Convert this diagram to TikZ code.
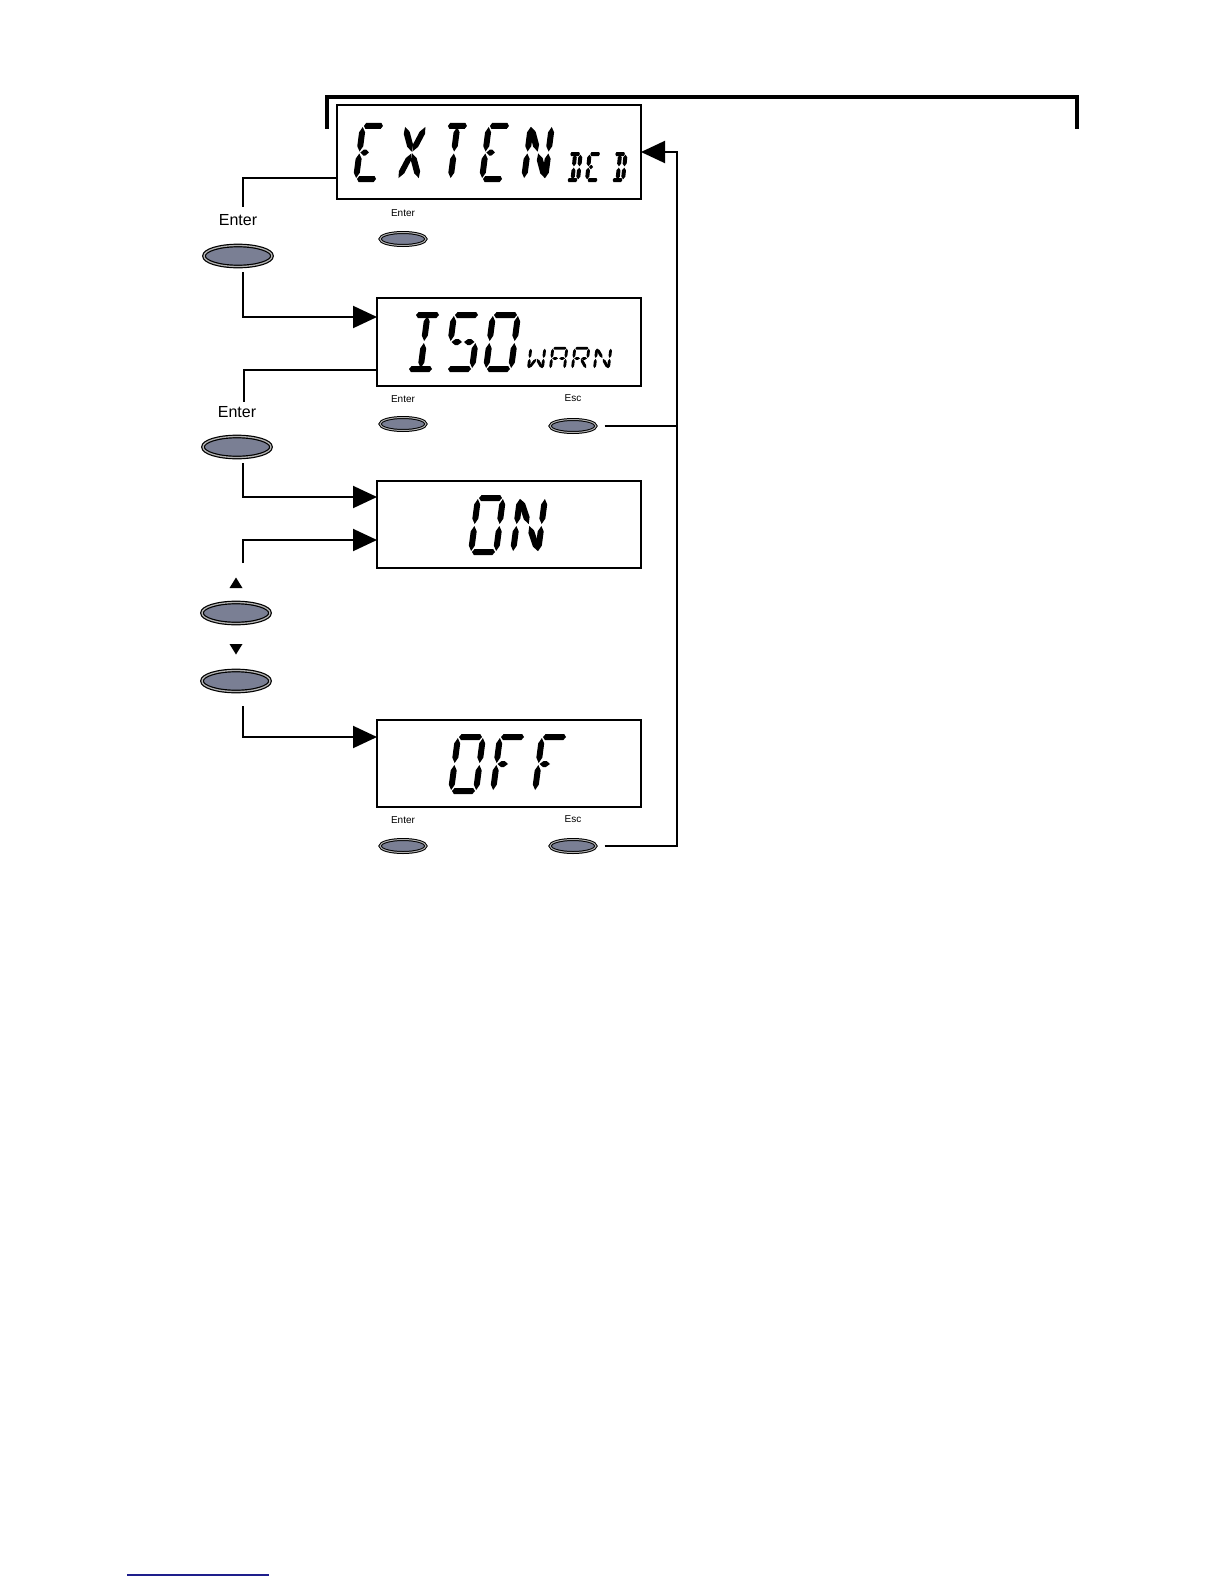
\documentclass[tikz,border=0pt]{standalone}
\usepackage{fontspec}
\setmainfont{Liberation Sans}
\usetikzlibrary{arrows.meta,shapes.geometric}
\definecolor{btncol}{RGB}{122,127,148}
\definecolor{linkblue}{RGB}{30,30,140}

% one LCD segment: #1 taper fraction, (#2,#3) -> (#4,#5)
\newcommand\lcdseg[5]{%
 \pgfmathsetmacro\ldx{(#4)-(#2)}\pgfmathsetmacro\ldy{(#5)-(#3)}%
 \pgfmathsetmacro\lll{veclen(\ldx,\ldy)}%
 \pgfmathsetmacro\lux{\ldx/\lll}\pgfmathsetmacro\luy{\ldy/\lll}%
 \pgfmathsetmacro\ltp{\lcdgap+#1*\lll}%
 \fill ({(#2)+\lcdgap*\lux},{(#3)+\lcdgap*\luy})
  -- ({(#2)+\ltp*\lux-\lcdh*\luy},{(#3)+\ltp*\luy+\lcdh*\lux})
  -- ({(#4)-\ltp*\lux-\lcdh*\luy},{(#5)-\ltp*\luy+\lcdh*\lux})
  -- ({(#4)-\lcdgap*\lux},{(#5)-\lcdgap*\luy})
  -- ({(#4)-\ltp*\lux+\lcdh*\luy},{(#5)-\ltp*\luy-\lcdh*\lux})
  -- ({(#2)+\ltp*\lux+\lcdh*\luy},{(#3)+\ltp*\luy-\lcdh*\lux}) -- cycle;}
\def\LSa{\lcdseg{0.09}{0}{\lcdht}{\lcdw}{\lcdht}}
\def\LSb{\lcdseg{0.2}{\lcdw}{\lcdht}{\lcdw}{\lcdm}}
\def\LSc{\lcdseg{0.2}{\lcdw}{\lcdm}{\lcdw}{0}}
\def\LSd{\lcdseg{0.09}{0}{0}{\lcdw}{0}}
\def\LSe{\lcdseg{0.2}{0}{0}{0}{\lcdm}}
\def\LSf{\lcdseg{0.2}{0}{\lcdm}{0}{\lcdht}}
\def\LSg{\lcdseg{0.3}{0}{\lcdm}{\lcdhw}{\lcdm}}
\def\LSq{\lcdseg{0.3}{\lcdhw}{\lcdm}{\lcdw}{\lcdm}}
\def\LSh{\lcdseg{0.22}{0}{\lcdht}{\lcdhw}{\lcdm}}
\def\LSi{\lcdseg{0.2}{\lcdhw}{\lcdht}{\lcdhw}{\lcdm}}
\def\LSj{\lcdseg{0.22}{\lcdw}{\lcdht}{\lcdhw}{\lcdm}}
\def\LSk{\lcdseg{0.22}{0}{0}{\lcdhw}{\lcdm}}
\def\LSl{\lcdseg{0.2}{\lcdhw}{0}{\lcdhw}{\lcdm}}
\def\LSm{\lcdseg{0.22}{\lcdw}{0}{\lcdhw}{\lcdm}}
\newcommand\lcdsize[5]{\def\lcdw{#1}\def\lcdht{#2}\def\lcdh{#3}\def\lcdsl{#4}\def\lcdgap{#5}%
 \pgfmathsetmacro\lcdm{#2/2}\pgfmathsetmacro\lcdhw{#1/2}}
\newcommand\lcdchar[3]{\begin{scope}[shift={(#1,#2)},x=1pt,y=1pt,xslant=\lcdsl]
 \foreach \s in {#3}{\csname LS\s\endcsname}\end{scope}}

\begin{document}
\begin{tikzpicture}[x=1pt,y=-1pt,
 conn/.style={line width=2pt},
 thinconn/.style={line width=1.1pt},
 arr/.style={conn,-{Triangle[length=24pt,width=22pt]}},
 lcdbox/.style={draw,line width=1.8pt,inner sep=0pt,outer sep=0pt,rectangle},
 bigbtn/.style={ellipse,draw=black,double=black!30,line width=1.2pt,double distance=1.3pt,
   fill=btncol,minimum width=68pt,minimum height=21pt,inner sep=0pt},
 smallbtn/.style={bigbtn,minimum width=46pt,minimum height=13pt,line width=1pt,double distance=1pt},
 biglbl/.style={font=\fontsize{16}{18}\selectfont,inner sep=0pt},
 smalllbl/.style={font=\fontsize{10}{12}\selectfont,inner sep=0pt}]
\useasboundingbox (0,0) rectangle (1224,1584);

% bracket at the top
\coordinate (br1) at (327,129);
\coordinate (br2) at (327,97);
\coordinate (br3) at (1077,97);
\coordinate (br4) at (1077,129);
\draw[line width=4pt] (br1) -- (br2) -- (br3) -- (br4);

% display boxes
\node[lcdbox,minimum width=304pt,minimum height=94pt] (ext) at (489,152) {};
\node[lcdbox,minimum width=264pt,minimum height=88pt] (iso) at (509,342) {};
\node[lcdbox,minimum width=264pt,minimum height=87pt] (on) at (509,524.5) {};
\node[lcdbox,minimum width=264pt,minimum height=87pt] (off) at (509,763.5) {};

% LCD texts
\lcdsize{21}{53}{3}{0.13}{1}
\lcdchar{356}{179}{a,d,e,f,g}
\lcdchar{398}{179}{h,j,k,m}
\lcdchar{440}{179}{a,i,l}
\lcdchar{482}{179}{a,d,e,f,g}
\lcdchar{524}{179}{e,f,b,c,h,m}
\lcdsize{11}{26}{2}{0.1}{0.7}
\lcdchar{567}{180}{a,b,c,d,i,l}
\lcdchar{587}{180}{a,d,e,f,g}
\lcdchar{612}{180}{a,b,c,d,i,l}

\lcdsize{25}{54}{3}{0.13}{1}
\lcdchar{408}{369}{a,d,i,l}
\lcdchar{447}{369}{a,f,g,q,c,d}
\lcdchar{486}{369}{a,b,c,d,e,f}
\lcdsize{14}{20.4}{1.4}{0.12}{0.5}
\lcdchar{528.4}{368.6}{e,f,b,c,k,m}
\lcdchar{550.4}{368.6}{a,b,c,e,f,g,q}
\lcdchar{572.4}{368.6}{a,b,f,e,g,q,m}
\lcdchar{594.4}{368.6}{e,f,b,c,h,m}

\lcdsize{25}{54}{3}{0.13}{1}
\lcdchar{471}{552}{a,b,c,d,e,f}
\lcdchar{513}{552}{e,f,b,c,h,m}

\lcdchar{451}{791}{a,b,c,d,e,f}
\lcdchar{493}{791}{a,e,f,g}
\lcdchar{535}{791}{a,e,f,g}

% buttons and labels
\node[biglbl] (lb1) at (238,220) {Enter};
\node[bigbtn] (b1) at (238,256) {};
\node[smalllbl] (ls1) at (403,213) {Enter};
\node[smallbtn] (s1) at (403,239) {};

\node[biglbl] (lb2) at (237,412) {Enter};
\node[bigbtn] (b2) at (237,447) {};
\node[smalllbl] (ls2) at (403,399) {Enter};
\node[smallbtn] (s2) at (403,424) {};
\node[smalllbl] (le2) at (573,398) {Esc};
\node[smallbtn] (e2) at (573,426) {};

\fill (236,577.5) -- (242.5,588) -- (229.5,588) -- cycle;
\node[bigbtn] (bu) at (236,613) {};
\fill (229.5,644) -- (242.5,644) -- (236,654.5) -- cycle;
\node[bigbtn] (bd) at (236,681) {};

\node[smalllbl] (ls3) at (403,820) {Enter};
\node[smallbtn] (s3) at (403,846) {};
\node[smalllbl] (le3) at (573,819) {Esc};
\node[smallbtn] (e3) at (573,846) {};

% connectors
\coordinate (c1) at (243,207);
\coordinate (c2) at (243,272);
\coordinate (c3) at (244,402);
\coordinate (c4) at (243,463);
\coordinate (c5) at (243,563);
\coordinate (c6) at (243,706);
\coordinate (r1) at (677,846);
\coordinate (r2) at (677,152);

\draw[conn] ([yshift=-26pt]ext.west) -| (c1);
\draw[arr] (c2) |- ([yshift=25pt]iso.west);
\draw[thinconn] ([yshift=-28pt]iso.west) -| (c3);
\draw[arr] (c4) |- ([yshift=27.5pt]on.west);
\draw[arr] (c5) |- ([yshift=-15.5pt]on.west);
\draw[arr] (c6) |- ([yshift=26.5pt]off.west);
\draw[conn] ([xshift=8pt]e2.east) -- (r1 |- e2.east);
\draw[arr] ([xshift=8pt]e3.east) -- (r1) -- (r2) -- (ext.east);

% link underline at the bottom
\coordinate (bl1) at (127,1575);
\coordinate (bl2) at (269,1575);
\draw[line width=1.3pt,linkblue] (bl1) -- (bl2);
\end{tikzpicture}
\end{document}
